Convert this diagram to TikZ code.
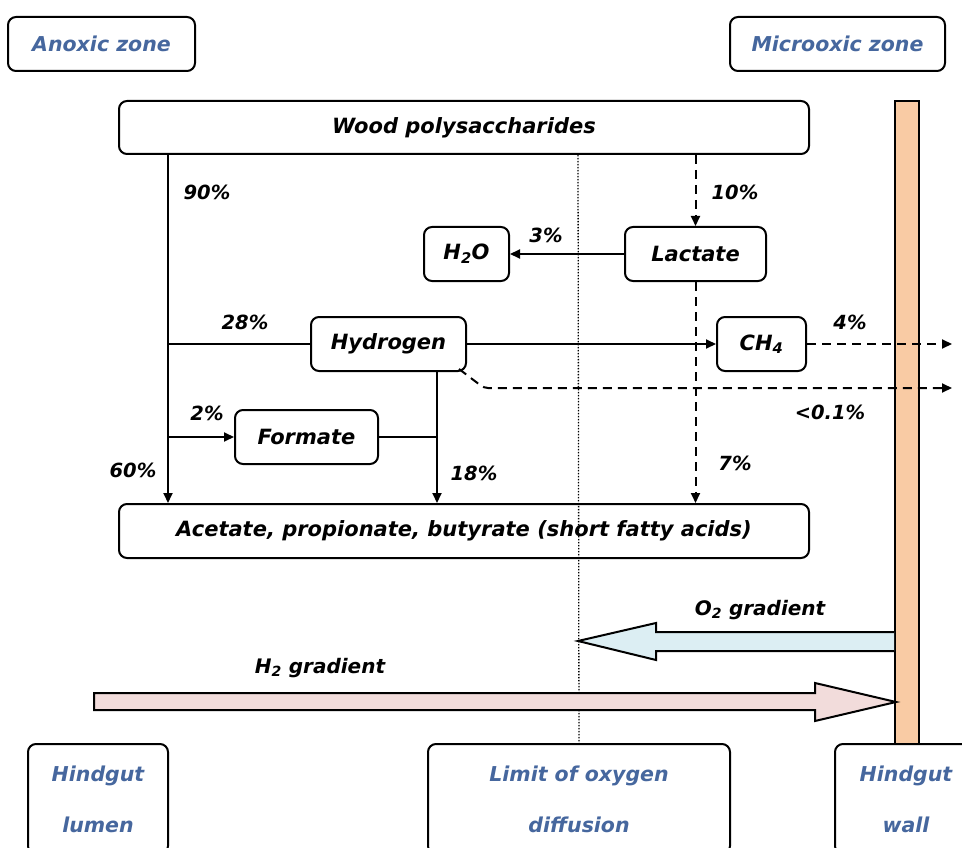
\documentclass[tikz,border=0pt]{standalone}
\usepackage{fontspec}
\setmainfont{DejaVu Sans}
\usetikzlibrary{arrows.meta,calc}
\definecolor{zoneblue}{HTML}{46679E}
\definecolor{wallfill}{HTML}{F9CBA4}
\definecolor{otwofill}{HTML}{DCEEF3}
\definecolor{htwofill}{HTML}{F2DCDB}
\begin{document}
\begin{tikzpicture}[x=1pt,y=-1pt,
  box/.style={draw,line width=2pt,rounded corners=8pt,inner sep=0pt,anchor=north west,
    font=\fontsize{21}{24}\selectfont\bfseries\itshape},
  zone/.style={box,text=zoneblue,font=\fontsize{20.5}{51}\selectfont\bfseries\itshape,align=center},
  pct/.style={font=\fontsize{19.5}{22}\selectfont\bfseries\itshape,inner sep=0pt},
  flow/.style={line width=2pt,-{Triangle[length=10pt,width=9pt]}},
  plain/.style={line width=2pt},
  dflow/.style={flow,dash pattern=on 9pt off 6pt},
  bigarrow/.style={draw,line width=2pt,line join=miter}]
\useasboundingbox (0,0) rectangle (962,848);
\begin{scope}
\clip (0,0) rectangle (962,848);
% coordinates of vertical lanes
\coordinate (xl) at (168,0);
\coordinate (xh) at (437,0);
\coordinate (xdot) at (578,0);
% zone boxes
\node[zone,minimum width=187pt,minimum height=54pt] (anoxic) at (7,16) {Anoxic zone};
\node[zone,minimum width=215pt,minimum height=54pt] (micro) at (729,16) {Microoxic zone};
\node[zone,minimum width=140pt,minimum height=110pt] (lumen) at (27,743) {Hindgut\\lumen};
\node[zone,minimum width=302pt,minimum height=110pt] (limit) at (427,743) {Limit of oxygen\\diffusion};
\node[zone,minimum width=142pt,minimum height=110pt] (wallbox) at (834,743) {Hindgut\\wall};
% wall
\node[draw,line width=2pt,fill=wallfill,anchor=north west,minimum width=24pt,minimum height=643pt,inner sep=0pt] (wall) at (894,100) {};
% main boxes
\node[box,minimum width=690pt,minimum height=53pt] (wood) at (118,100) {Wood polysaccharides};
\node[box,minimum width=85pt,minimum height=54pt] (water) at (423,226) {H\textsubscript{2}O};
\node[box,minimum width=141pt,minimum height=54pt] (lac) at (624,226) {Lactate};
\node[box,minimum width=155pt,minimum height=54pt] (hyd) at (310,316) {Hydrogen};
\node[box,minimum width=89pt,minimum height=54pt] (ch) at (716,316) {CH\textsubscript{4}};
\node[box,minimum width=143pt,minimum height=54pt] (form) at (234,409) {Formate};
\node[box,minimum width=690pt,minimum height=54pt] (acet) at (118,503) {Acetate, propionate, butyrate (short fatty acids)};
% dotted limit line
\draw[line width=1.3pt,dash pattern=on 1.3pt off 1.7pt] (wood.south -| xdot) -- (limit.north);
% connectors
\draw[flow] (wood.south -| xl) -- (acet.north -| xl);
\draw[dflow] (wood.south -| lac.north) -- (lac.north);
\draw[flow] (lac.west) -- (water.east);
\draw[dflow] (lac.south) -- (acet.north -| lac.south);
\draw[plain] (hyd.west -| xl) -- (hyd.west);
\draw[flow] (hyd.east) -- (ch.west);
\coordinate (outa) at (952,342);
\coordinate (outb) at (952,388);
\coordinate (hcorner) at (459,369);
\coordinate (hbend) at (484,388);
\draw[dflow] (ch.east) -- (ch.east -| outa);
\draw[dflow,rounded corners=4pt] (hcorner) -- (hbend) -- (outb);
\draw[flow] (hyd.south -| xh) -- (acet.north -| xh);
\draw[flow] (form.west -| xl) -- (form.west);
\draw[plain] (form.east) -- (form.east -| xh);
% percentages
\node[pct] (p90) at (207,192) {90\%};
\node[pct] (p10) at (735,192) {10\%};
\node[pct] (p3) at (546,235) {3\%};
\node[pct] (p28) at (245,322) {28\%};
\node[pct] (p4) at (850,322) {4\%};
\node[pct] (p01) at (830,412) {<0.1\%};
\node[pct] (p2) at (207,413) {2\%};
\node[pct] (p60) at (133,470) {60\%};
\node[pct] (p18) at (474,473) {18\%};
\node[pct] (p7) at (735,463) {7\%};
% gradients
\draw[bigarrow,fill=otwofill] (894,632) -- (656,632) -- (656,623) -- (578,641) -- (656,660) -- (656,651) -- (894,651);
\draw[bigarrow,fill=htwofill] (94,693) -- (815,693) -- (815,683) -- (896,702) -- (815,721) -- (815,710) -- (94,710) -- cycle;
\node[pct,font=\fontsize{20}{22}\selectfont\bfseries\itshape] (otwo) at (760,610) {O\textsubscript{2} gradient};
\node[pct,font=\fontsize{20}{22}\selectfont\bfseries\itshape] (htwo) at (320,668) {H\textsubscript{2} gradient};
\end{scope}
\end{tikzpicture}
\end{document}
